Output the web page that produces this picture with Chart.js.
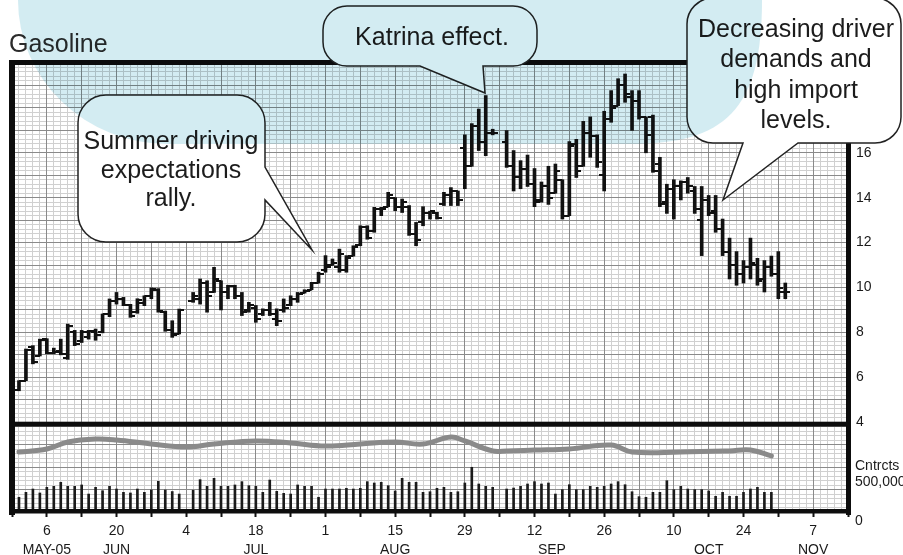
<!DOCTYPE html>
<html>
<head>
<meta charset="utf-8">
<script src="https://cdn.jsdelivr.net/npm/chart.js"></script>
<style>
html,body{margin:0;padding:0;background:#fff;}
#wrap{position:relative;width:903px;height:555px;}
</style>
</head>
<body>
<div id="wrap"><canvas id="c"></canvas></div>
<script>
// ---------- DATA ----------
// weekday slot index counted from Monday 30 May 2005 (slot 0)
const dayIndex = [1,2,3,4,5,6,7,8,9,10,11,12,13,14,15,16,17,18,19,20,21,22,23,24,25,26,27,28,29,30,
  31,32,33,34,35,36,37,38,39,40,41,42,43,44,45,46,47,48,49,50,51,52,53,54,55,56,57,58,59,60,
  61,62,63,64,65,66,67,68,69,70,71,72,73,74,75,76,77,78,79,80,81,82,83,84,85,86,87,88,89,90,
  91,92,93,94,95,96,97,98,99,100,101,102,103,104,105,106,107,108,109,110,111];

const open = [5.45,5.85,7.35,6.95,7.70,7.10,7.15,6.85,8.00,7.60,
  7.80,8.00,8.00,8.80,9.40,9.50,9.20,8.90,9.30,9.60,
  9.90,8.90,8.10,7.95,null,9.40,9.50,10.20,9.80,10.30,
  9.80,10.05,9.60,9.00,9.10,8.80,9.00,8.60,9.00,9.20,
  9.50,9.75,9.90,10.20,10.80,11.00,10.90,10.80,11.40,11.90,
  12.70,12.50,13.50,13.60,14.00,13.60,13.60,12.40,12.90,13.30,
  13.30,13.70,14.10,14.30,16.20,15.40,17.20,16.50,16.90,null,
  16.50,15.40,14.90,15.30,14.60,13.90,14.50,14.20,14.80,13.20,
  16.40,15.40,16.90,16.75,15.00,17.50,18.10,19.00,18.50,18.30,
  17.60,17.60,15.50,13.80,14.40,14.50,14.70,14.30,13.00,13.90,
  13.40,12.60,11.60,11.00,10.60,10.90,11.00,10.40,10.90,10.60,
  9.80];

const high = [5.85,7.26,7.41,7.70,7.72,7.30,7.70,8.37,8.09,8.09,
  8.09,8.15,8.82,9.49,9.78,9.56,9.25,9.50,9.63,9.98,
  9.95,8.95,8.52,9.04,null,9.78,10.38,10.30,10.90,10.30,
  10.10,10.10,9.78,9.34,9.20,9.05,9.34,9.05,9.49,9.63,
  9.78,9.90,10.23,10.68,11.42,11.27,11.71,11.42,11.86,12.75,
  12.75,13.57,13.57,14.24,14.00,13.94,13.65,12.90,13.60,13.40,
  13.35,14.24,14.45,14.30,16.80,17.30,17.95,18.55,17.05,null,
  16.99,16.10,15.65,15.90,15.30,14.70,15.40,15.50,14.80,16.50,
  16.60,17.40,17.60,16.80,17.85,18.77,19.30,19.51,18.77,18.77,
  17.60,17.68,15.80,14.60,14.80,14.75,14.90,14.50,14.50,14.10,
  14.10,13.05,12.20,11.60,11.20,12.20,11.30,11.20,11.40,11.60,
  10.20];

const low = [5.40,5.85,6.60,6.95,7.05,7.05,7.00,6.80,7.41,7.55,
  7.70,7.65,7.98,8.70,9.26,9.19,8.67,8.85,9.19,9.50,
  8.90,8.05,7.78,7.93,null,9.34,9.26,8.90,9.78,9.00,
  9.50,9.50,8.75,8.90,8.45,8.75,8.75,8.30,8.90,9.19,
  9.34,9.75,9.90,10.20,10.68,10.99,10.68,10.68,11.40,11.86,
  12.15,12.46,13.20,13.60,13.42,13.34,12.32,11.86,12.75,13.05,
  13.05,13.65,13.65,13.65,14.40,15.40,16.10,15.87,16.80,null,
  15.35,14.30,14.40,14.50,13.60,13.80,13.70,14.20,13.05,13.20,
  14.90,15.40,15.80,15.35,14.30,17.36,18.10,18.25,17.00,17.50,
  16.00,15.13,13.60,13.30,13.05,13.90,14.20,13.30,11.42,13.20,
  12.46,11.42,10.38,10.10,10.20,10.38,10.10,9.80,10.50,9.50,
  9.50];

const close = [5.85,7.20,6.70,7.65,7.10,7.12,7.05,8.30,7.50,8.00,
  8.05,7.90,8.80,9.40,9.50,9.20,8.75,9.45,9.60,9.95,
  8.95,8.10,7.90,9.00,null,9.60,10.20,9.60,10.40,9.80,
  10.05,9.60,8.90,9.20,8.60,9.00,8.80,8.50,9.10,9.50,
  9.70,9.85,10.20,10.60,10.90,11.10,11.50,11.30,11.80,12.70,
  12.20,13.50,13.50,14.10,13.60,13.80,12.40,12.10,13.30,13.40,
  13.10,14.10,14.30,13.90,15.40,17.20,16.50,16.90,16.90,null,
  15.40,14.90,15.30,14.60,13.80,14.50,14.00,15.20,13.20,16.30,
  15.20,16.90,16.75,15.60,17.50,18.00,19.00,18.60,18.30,17.60,
  16.80,15.20,13.70,14.40,14.50,14.70,14.50,13.50,13.90,13.30,
  12.60,11.60,11.00,10.60,10.90,11.10,10.30,10.90,10.60,10.00,
  9.80];

// daily volume, thousands of contracts
const volume = [164,219,256,212,275,286,331,286,286,301,
  200,275,237,286,256,219,212,256,219,245,
  342,245,228,200,null,242,360,286,375,286,
  286,301,338,293,286,219,356,230,208,200,
  301,286,286,164,256,256,256,264,256,264,
  338,323,331,293,234,375,331,331,219,226,
  264,275,219,226,323,498,312,286,275,null,
  256,267,286,312,338,312,323,200,249,304,
  249,249,286,275,286,312,338,304,226,171,
  164,219,219,349,249,286,256,249,249,234,
  175,219,175,175,219,256,275,219,219,null,
  null];

// open interest, thousands of contracts (read at these slots)
const oiDay   = [1,5,8,12,15,20,25,29,35,40,45,50,55,59,63,65,69,71,75,80,86,89,96,103,106,109];
const oiValue = [668,702,780,813,802,757,724,757,791,769,735,757,780,757,835,791,680,680,690,702,746,668,668,680,690,624];

// axis labels
const dayTickPos  = [5,15,25,35,45,55,65,75,85,95,105,115];
const dayTickText = ['6','20','4','18','1','15','29','12','26','10','24','7'];
const monthPos  = [5,15,35,55,77.5,100,115];
const monthText = ['MAY-05','JUN','JUL','AUG','SEP','OCT','NOV'];
const priceTicks = [4,6,8,10,12,14,16];
const panelSplit = 4;

// ---------- STYLE / LAYOUT ----------
const SANS = '"Liberation Sans", Arial, sans-serif';
Chart.defaults.font.family = SANS;
Chart.defaults.color = '#1a1a1a';

function tickImage(side) {
  const c = document.createElement('canvas');
  c.width = 10; c.height = 2;
  const g = c.getContext('2d');
  g.fillStyle = '#111';
  g.fillRect(side === 'open' ? 0 : 5, 0, 5, 2);
  return c;
}

const rangeData = [], openPts = [], closePts = [], volPts = [];
dayIndex.forEach((d, k) => {
  if (high[k] != null) {
    rangeData.push({x: d, y: [low[k], high[k]]});
    openPts.push({x: d, y: open[k]});
    closePts.push({x: d, y: close[k]});
  }
  if (volume[k] != null) volPts.push({x: d, y: volume[k]});
});
const oiPts = oiDay.map((d, k) => ({x: d, y: oiValue[k]}));

const bubbles = [
  {x: 78, y: 95, w: 187, h: 147, r: 28, tail: {side: 'right', a: 167, b: 200, tx: 312, ty: 250},
   cx: 171, lines: ['Summer driving', 'expectations', 'rally.'], base: 149, lh: 28.5},
  {x: 323, y: 6, w: 214, h: 60, r: 24, tail: {side: 'bottom', a: 420, b: 483, tx: 485, ty: 93},
   cx: 432, lines: ['Katrina effect.'], base: 45, lh: 30},
  {x: 687, y: -2, w: 214, h: 145, r: 26, tail: {side: 'bottom', a: 743, b: 798, tx: 723, ty: 200},
   cx: 796, lines: ['Decreasing driver', 'demands and', 'high import', 'levels.'], base: 37, lh: 30.3}
];

function bubblePath(ctx, b) {
  const {x, y, w, h, r, tail} = b;
  const x2 = x + w, y2 = y + h;
  ctx.beginPath();
  ctx.moveTo(x + r, y);
  ctx.lineTo(x2 - r, y);
  ctx.arcTo(x2, y, x2, y + r, r);
  if (tail.side === 'right') { ctx.lineTo(x2, tail.a); ctx.lineTo(tail.tx, tail.ty); ctx.lineTo(x2, tail.b); }
  ctx.lineTo(x2, y2 - r);
  ctx.arcTo(x2, y2, x2 - r, y2, r);
  if (tail.side === 'bottom') { ctx.lineTo(tail.b, y2); ctx.lineTo(tail.tx, tail.ty); ctx.lineTo(tail.a, y2); }
  ctx.lineTo(x + r, y2);
  ctx.arcTo(x, y2, x, y2 - r, r);
  ctx.lineTo(x, y + r);
  ctx.arcTo(x, y, x + r, y, r);
  ctx.closePath();
}

const decor = {
  id: 'decor',
  beforeDraw(chart) {
    const ctx = chart.ctx;
    ctx.save(); ctx.fillStyle = '#fff'; ctx.fillRect(0, 0, chart.width, chart.height); ctx.restore();
  },
  afterDatasetsDraw(chart) {
    const {ctx, chartArea: a, scales} = chart;
    const py = scales.y.getPixelForValue(panelSplit);
    ctx.save();
    ctx.fillStyle = '#0d0d0d';
    ctx.fillRect(a.left - 3, a.top - 3, 6, a.bottom - a.top + 6);
    ctx.fillRect(a.left - 3, a.top - 3, a.right - a.left + 6, 5);
    ctx.fillRect(a.right - 2, a.top - 3, 5, a.bottom - a.top + 6);
    ctx.fillRect(a.left - 3, a.bottom - 3, a.right - a.left + 6, 4.5);
    ctx.fillRect(a.left, py - 0.5, a.right - a.left, 5);
    ctx.restore();
  },
  afterDraw(chart) {
    const {ctx, chartArea: a, scales} = chart;
    ctx.save();
    // month row
    ctx.fillStyle = '#1a1a1a';
    ctx.font = '14px ' + SANS;
    ctx.textAlign = 'center';
    ctx.textBaseline = 'middle';
    monthPos.forEach((p, k) => ctx.fillText(monthText[k], scales.x.getPixelForValue(p), 550));
    // lower panel labels
    ctx.textAlign = 'left';
    ctx.fillText('Cntrcts', a.right + 7, 466);
    ctx.fillText('500,000', a.right + 7, 482.5);
    ctx.fillText('0', a.right + 7, 521);
    // title
    ctx.fillStyle = '#2b2b2b';
    ctx.font = '25px ' + SANS;
    ctx.textBaseline = 'alphabetic';
    ctx.fillText('Gasoline', 9, 52);
    // bubbles
    bubbles.forEach(b => {
      bubblePath(ctx, b);
      ctx.fillStyle = '#ffffff';
      ctx.fill();
      ctx.lineWidth = 1.5;
      ctx.strokeStyle = '#222';
      ctx.lineJoin = 'miter';
      ctx.stroke();
      ctx.fillStyle = '#1c1c1c';
      ctx.textAlign = 'center';
      b.lines.forEach((t, k) => ctx.fillText(t, b.cx, b.base + k * b.lh));
    });
    // translucent blue blob (multiplied over everything)
    ctx.globalCompositeOperation = 'multiply';
    ctx.fillStyle = '#d3ecf2';
    ctx.beginPath();
    ctx.moveTo(18, -10);
    ctx.lineTo(18, 0);
    ctx.ellipse(168, 0, 150, 144, 0, Math.PI, Math.PI / 2, true);
    ctx.lineTo(630, 144);
    ctx.bezierCurveTo(725, 144, 762, 110, 762, 0);
    ctx.lineTo(762, -10);
    ctx.closePath();
    ctx.fill();
    ctx.restore();
  }
};

const ctx = document.getElementById('c').getContext('2d');
new Chart(ctx, {
  type: 'bar',
  data: {
    datasets: [
      {type: 'bar', data: rangeData, xAxisID: 'x', yAxisID: 'y', backgroundColor: '#111',
       borderWidth: 0, barThickness: 3, grouped: false},
      {type: 'line', data: openPts, xAxisID: 'x', yAxisID: 'y', showLine: false,
       pointStyle: tickImage('open'), pointRadius: 2},
      {type: 'line', data: closePts, xAxisID: 'x', yAxisID: 'y', showLine: false,
       pointStyle: tickImage('close'), pointRadius: 2},
      {type: 'line', data: oiPts, xAxisID: 'x', yAxisID: 'yv', borderColor: '#8a8a8a',
       borderWidth: 5, tension: 0.4, pointRadius: 0, borderCapStyle: 'round', fill: false},
      {type: 'bar', data: volPts, xAxisID: 'x', yAxisID: 'yv', backgroundColor: '#1a1a1a',
       borderWidth: 0, barThickness: 2, grouped: false}
    ]
  },
  options: {
    responsive: true,
    maintainAspectRatio: false,
    animation: false,
    events: [],
    devicePixelRatio: 1,
    layout: {padding: {left: 12, top: 63, right: 0, bottom: 0}},
    plugins: {legend: {display: false}, tooltip: {enabled: false}, title: {display: false}},
    scales: {
      x: {
        type: 'linear', position: 'bottom', min: 0, max: 120, offset: false,
        grid: {color: '#8a8a8a', lineWidth: 1, drawTicks: true, tickLength: 5, tickColor: '#111', tickWidth: 2, offset: false, z: -1},
        border: {display: false},
        ticks: {stepSize: 5, autoSkip: false, maxRotation: 0, minRotation: 0, padding: 6,
          font: {size: 14}, color: '#1a1a1a',
          callback: v => { const k = dayTickPos.indexOf(v); return k >= 0 ? dayTickText[k] : ''; }},
        afterFit: s => { s.height = 43; }
      },
      xm: {
        type: 'linear', position: 'bottom', min: 0, max: 120, offset: false,
        grid: {color: '#d0d0d0', lineWidth: 1, drawTicks: false, offset: false, z: -2},
        border: {display: false},
        ticks: {display: false, stepSize: 1},
        afterFit: s => { s.height = 0; }
      },
      y: {
        type: 'linear', position: 'right', min: 0, max: 20,
        grid: {color: '#8a8a8a', lineWidth: 1, drawTicks: false, z: -1},
        border: {display: false},
        ticks: {stepSize: 1, padding: 8, font: {size: 14}, color: '#1a1a1a',
          callback: v => priceTicks.includes(v) ? String(v) : ''},
        afterFit: s => { s.width = 55; }
      },
      ym: {
        type: 'linear', position: 'left', min: 0, max: 20,
        grid: {color: '#d0d0d0', lineWidth: 1, drawTicks: false, z: -2},
        border: {display: false},
        ticks: {display: false, stepSize: 0.2},
        afterFit: s => { s.width = 0; }
      },
      yv: {
        type: 'linear', position: 'left', min: 0, max: 5000, display: false
      }
    }
  },
  plugins: [decor]
});
</script>
</body>
</html>
